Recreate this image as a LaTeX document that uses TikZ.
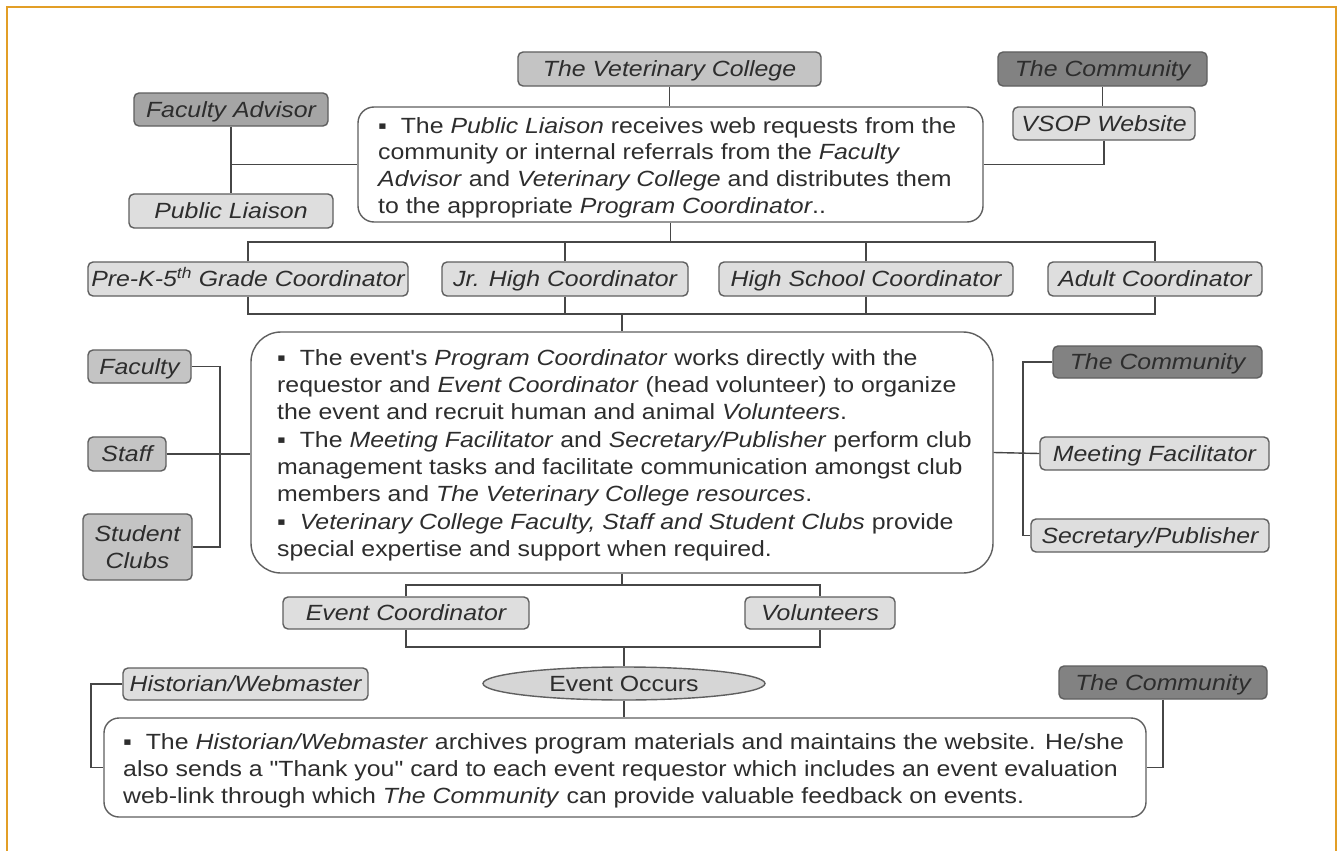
\documentclass[tikz,border=0pt]{standalone}
\usepackage{fontspec}
\setmainfont{Liberation Sans}[FakeStretch=1.13, Ligatures=TeXOff]
\usetikzlibrary{shapes.geometric}
\definecolor{orng}{RGB}{226,158,38}
\definecolor{linec}{RGB}{70,70,70}
\definecolor{boxline}{RGB}{95,95,95}
\definecolor{txt}{RGB}{45,45,45}
\definecolor{fdark}{RGB}{130,130,130}
\definecolor{fmdark}{RGB}{165,165,165}
\definecolor{fmid}{RGB}{196,196,196}
\definecolor{flight}{RGB}{222,222,222}
\definecolor{fell}{RGB}{214,214,214}
\newcommand{\lblfont}{\fontsize{22}{27}\selectfont\itshape}
\begin{document}
\begin{tikzpicture}[x=1pt,y=-1pt,
  lblbase/.style={draw=boxline, line width=1.4pt, rounded corners=5pt, font=\lblfont, text=txt, inner xsep=1pt, inner ysep=0pt},
  lbl/.style={lblbase, text height=16pt, text depth=1pt},
  dark/.style={fill=fdark},
  mdark/.style={fill=fmdark},
  mid/.style={fill=fmid},
  light/.style={fill=flight},
  txtbox/.style={draw=boxline, line width=1.4pt, fill=white, inner sep=0pt},
  para/.style={text=txt, align=left, inner sep=0pt, anchor=north west},
  conn/.style={draw=linec, line width=1.4pt}]
\useasboundingbox (0,0) rectangle (1341,851);
\fill[white] (0,0) rectangle (1341,851);
\draw[orng, line width=2pt] (7,851) -- (7,7) -- (1336,7) -- (1336,851);

% ---------- top section ----------
\node[lbl, mid, minimum width=303pt, minimum height=34pt] (vc) at (669.5,69) {The Veterinary College};
\node[lbl, dark, minimum width=209pt, minimum height=34pt] (comT) at (1102.5,69) {The Community};
\node[lbl, light, minimum width=182pt, minimum height=33pt] (vsop) at (1104,123.5) {VSOP Website};
\node[lbl, mdark, minimum width=194pt, minimum height=33pt] (fa) at (231,109.5) {Faculty Advisor};
\node[lbl, light, minimum width=204pt, minimum height=34pt] (pl) at (231,211) {Public Liaison};
\node[txtbox, rounded corners=16pt, minimum width=625pt, minimum height=115pt] (box1) at (670.5,164.5) {};
\node[para, font={\fontsize{22}{26.7}\selectfont}] (t1) at (378,114.3) {\strut▪\ \ The \emph{Public Liaison} receives web requests from the\\
community or internal referrals from the \emph{Faculty}\\
\emph{Advisor} and \emph{Veterinary College} and distributes them\\
to the appropriate \emph{Program Coordinator}..};

\draw[conn] (vc.south) -- (vc.south |- box1.north);
\draw[conn] (comT.south) -- (comT.south |- vsop.north);
\draw[conn] (vsop.south) |- (box1.east);
\draw[conn] (fa.south) -- (pl.north);
\draw[conn] (fa.south |- box1.west) -- (box1.west);

% ---------- coordinators ----------
\node[lbl, light, minimum width=320pt, minimum height=34pt] (c1) at (248,279) {Pre-K-5\textsuperscript{th} Grade Coordinator};
\node[lbl, light, minimum width=246pt, minimum height=34pt] (c2) at (565,279) {Jr. High Coordinator};
\node[lbl, light, minimum width=294pt, minimum height=34pt] (c3) at (866,279) {High School Coordinator};
\node[lbl, light, minimum width=214pt, minimum height=34pt] (c4) at (1155,279) {Adult Coordinator};

\coordinate (b1) at (670.5,242);
\draw[conn] (box1.south) -- (b1);
\draw[conn] (c1.north) |- (b1) -| (c4.north);
\draw[conn] (c2.north) -- (c2.north |- b1);
\draw[conn] (c3.north) -- (c3.north |- b1);

% ---------- middle section ----------
\node[txtbox, rounded corners=30pt, minimum width=742pt, minimum height=241pt] (box2) at (622,452.5) {};
\node[para, font={\fontsize{22}{27.3}\selectfont}] (t2) at (277,345.9) {\strut▪\ \ The event's \emph{Program Coordinator} works directly with the\\
requestor and \emph{Event Coordinator} (head volunteer) to organize\\
the event and recruit human and animal \emph{Volunteers}.\\
▪\ \ The \emph{Meeting Facilitator} and \emph{Secretary/Publisher} perform club\\
management tasks and facilitate communication amongst club\\
members and \emph{The Veterinary College resources}.\\
▪\ \ \emph{Veterinary College Faculty, Staff and Student Clubs} provide\\
special expertise and support when required.};

\coordinate (b2) at (622,314);
\draw[conn] (c1.south) |- (b2) -| (c4.south);
\draw[conn] (c2.south) -- (c2.south |- b2);
\draw[conn] (c3.south) -- (c3.south |- b2);
\draw[conn] (b2) -- (box2.north);

\node[lbl, mid, minimum width=103pt, minimum height=33pt] (fac) at (139.5,366.5) {Faculty};
\node[lbl, mid, minimum width=78pt, minimum height=34pt] (staff) at (127,454) {Staff};
\node[lblbase, mid, align=center, minimum width=109pt, minimum height=66pt] (sc) at (137.5,547) {Student\\Clubs};
\coordinate (lbus) at (220,454);
\draw[conn] (fac.east) -| (lbus) |- (sc.east);
\draw[conn] (staff.east) -- (staff.east -| box2.west);

\node[lbl, dark, minimum width=209pt, minimum height=32pt] (comR) at (1157.5,362) {The Community};
\node[lbl, light, minimum width=229pt, minimum height=33pt] (mf) at (1154.5,453.5) {Meeting Facilitator};
\node[lbl, light, minimum width=238pt, minimum height=33pt] (sp) at (1150,535.5) {Secretary/Publisher};
\coordinate (rbus) at (1023,453.5);
\draw[conn] (comR.west) -| (rbus) |- (sp.west);
\draw[conn] (box2.east) -- (mf.west);

% ---------- event section ----------
\node[lbl, light, minimum width=246pt, minimum height=32pt] (ec) at (406,613) {Event Coordinator};
\node[lbl, light, minimum width=150pt, minimum height=32pt] (vol) at (820,613) {Volunteers};
\coordinate (b3) at (622,585);
\draw[conn] (box2.south) -- (b3);
\draw[conn] (ec.north) |- (b3) -| (vol.north);

\node[ellipse, draw=boxline, line width=1.4pt, fill=fell, text=txt, font={\fontsize{22}{27}\selectfont}, inner sep=0pt, minimum width=282pt, minimum height=33pt] (eo) at (624,683.5) {Event Occurs};
\coordinate (b4) at (624,647);
\draw[conn] (ec.south) |- (b4) -| (vol.south);
\draw[conn] (b4) -- (eo.north);

\node[txtbox, rounded corners=15pt, minimum width=1042pt, minimum height=99pt] (box3) at (625,767.5) {};
\node[para, font={\fontsize{22}{27}\selectfont}] (t3) at (123,730.1) {\strut▪\ \ The \emph{Historian/Webmaster} archives program materials and maintains the website. He/she\\
also sends a "Thank you" card to each event requestor which includes an event evaluation\\
web-link through which \emph{The Community} can provide valuable feedback on events.};
\draw[conn] (eo.south) -- (eo.south |- box3.north);

\node[lbl, light, minimum width=245pt, minimum height=32pt] (hw) at (245.5,684) {Historian/Webmaster};
\coordinate (hwc) at (91,725);
\draw[conn] (hw.west) -| (hwc) |- (box3.west);

\node[lbl, dark, minimum width=208pt, minimum height=33pt] (comB) at (1163,682.5) {The Community};
\draw[conn] (comB.south) |- (box3.east);
\end{tikzpicture}
\end{document}
